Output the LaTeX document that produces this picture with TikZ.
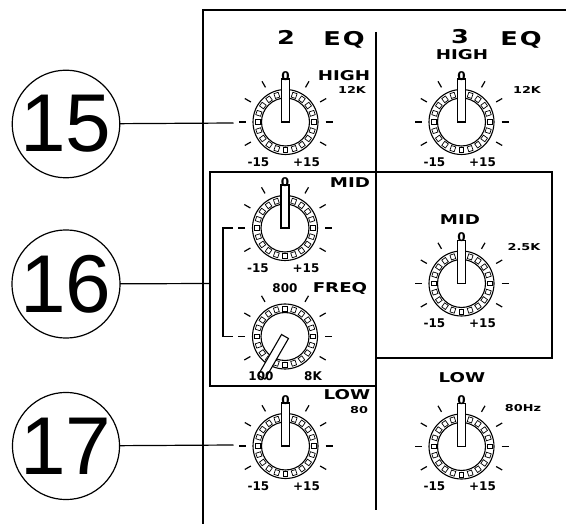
\documentclass[tikz,border=0pt]{standalone}
\usepackage{fontspec}
\usepackage{tikz,tkz-graph}
\setmainfont{Liberation Sans}
\newfontfamily\wideFont{DejaVu Sans}[FakeStretch=1.35]
\newfontfamily\numFont{DejaVu Sans}
\tikzstyle{knobLine}=[line width = 1.1pt]
\tikzstyle{knobTick}=[line width = 1.2pt]
\tikzstyle{knobNotch}=[shape = rectangle, draw, line width = 0.7pt, minimum width = 5pt, minimum height = 4.5pt, inner sep = 0pt]
\tikzstyle{knobPointer}=[draw, fill = white, line width = 1.1pt]
\newcommand{\Knob}[5]{%
\coordinate (#1) at (#2,#3);
\foreach \a in {-30,0,30,60,120,150,180,210}
  \draw[knobTick] (#1) ++(\a:40) -- ++(\a:7);
\draw[knobLine] (#1) circle (32.5);
\draw[knobLine] (#1) circle (24);
\foreach \b in {0,18,...,342}
  \path (#1) ++(\b:28) node[knobNotch, rotate = \b] {};
\begin{scope}[shift = {(#2,#3)}, rotate = #4-90]
\draw[knobPointer] (-4,0) rectangle (4,#5);
\end{scope}}

\begin{document}
\begin{tikzpicture}[x = 1pt, y = 1pt]
\tikzstyle{VertexStyle} = []
\tikzstyle{EdgeStyle} = [line width = 1.2pt]
\tikzstyle{callout}=[shape = circle, draw, line width = 1.2pt, minimum size = 103pt, inner sep = 0pt, font = \fontsize{82}{82}\selectfont]
\tikzstyle{frameLine}=[line width = 2pt]
\tikzstyle{knobNumber}=[inner sep = 0pt, font = \numFont\bfseries\fontsize{12}{12}\selectfont]
\tikzstyle{topLabel}=[knobNumber, yshift = 46pt]
\tikzstyle{minLabel}=[knobNumber, xshift = -27pt, yshift = -40pt]
\tikzstyle{maxLabel}=[knobNumber, xshift = 21pt, yshift = -40pt]
\tikzstyle{bandName}=[inner sep = 0pt, font = \wideFont\bfseries\fontsize{13.5}{13.5}\selectfont]
\tikzstyle{bandFreq}=[inner sep = 0pt, font = \wideFont\bfseries\fontsize{9.5}{9.5}\selectfont]
\tikzstyle{chanNum}=[inner sep = 0pt, font = \wideFont\bfseries\fontsize{19}{19}\selectfont]
\useasboundingbox (0,0) rectangle (566,-524);
\draw[frameLine] (566,-10) -- (203,-10) -- (203,-524);
\draw[line width = 1.5pt] (376,-32) -- (376,-510);
\draw[frameLine] (376,-358) -- (552,-358) -- (552,-172) -- (210,-172) -- (210,-386) -- (376,-386);
\Knob{k2high}{285.5}{-122}{90}{43}
\Knob{k2mid}{285}{-228}{90}{43}
\Knob{k2freq}{285}{-336.5}{240}{47}
\Knob{k2low}{285.5}{-446}{90}{43}
\Knob{k3high}{461.5}{-122}{90}{43}
\Knob{k3mid}{461.5}{-283.5}{90}{43}
\Knob{k3low}{461.5}{-446.5}{90}{43}
\node[topLabel] (k2highTop) at (k2high) {0};
\node[minLabel] (k2highMin) at (k2high) {-15};
\node[maxLabel] (k2highMax) at (k2high) {+15};
\node[topLabel] (k2midTop) at (k2mid) {0};
\node[minLabel] (k2midMin) at (k2mid) {-15};
\node[maxLabel] (k2midMax) at (k2mid) {+15};
\node[topLabel, yshift = 2pt] (k2freqTop) at (k2freq) {800};
\node[minLabel, xshift = 3pt] (k2freqMin) at (k2freq) {100};
\node[maxLabel, xshift = 7pt] (k2freqMax) at (k2freq) {8K};
\node[topLabel] (k2lowTop) at (k2low) {0};
\node[minLabel] (k2lowMin) at (k2low) {-15};
\node[maxLabel] (k2lowMax) at (k2low) {+15};
\node[topLabel] (k3highTop) at (k3high) {0};
\node[minLabel] (k3highMin) at (k3high) {-15};
\node[maxLabel] (k3highMax) at (k3high) {+15};
\node[topLabel] (k3midTop) at (k3mid) {0};
\node[minLabel] (k3midMin) at (k3mid) {-15};
\node[maxLabel] (k3midMax) at (k3mid) {+15};
\node[topLabel] (k3lowTop) at (k3low) {0};
\node[minLabel] (k3lowMin) at (k3low) {-15};
\node[maxLabel] (k3lowMax) at (k3low) {+15};
\node[chanNum] (ch2) at (286,-37) {2};
\node[chanNum] (eq2) at (344,-40) {E\kern2pt Q};
\node[chanNum] (ch3) at (460,-37) {3};
\node[chanNum] (eq3) at (521,-40) {E\kern2pt Q};
\node[bandName] (high2) at (344,-76) {HIGH};
\node[bandFreq] (high2f) at (352,-90) {12K};
\node[bandName] (mid2) at (350,-183) {MID};
\node[bandName] (freq2) at (340,-288) {FREQ};
\node[bandName] (low2) at (347,-395) {LOW};
\node[bandFreq] (low2f) at (359,-410) {80};
\node[bandName] (high3) at (462,-55) {HIGH};
\node[bandFreq] (high3f) at (527,-90) {12K};
\node[bandName] (mid3) at (460,-220) {MID};
\node[bandFreq] (mid3f) at (524,-247) {2.5K};
\node[bandName] (low3) at (462,-378) {LOW};
\node[bandFreq] (low3f) at (523,-408) {80Hz};
\draw[knobTick] ([xshift = -52pt]k2mid) -- ([xshift = -62pt]k2mid) |- ([xshift = -52pt]k2freq);
\Vertex[style = callout, x = 66, y = -124, L = {15}]{c15}
\Vertex[style = callout, x = 66, y = -284, L = {16}]{c16}
\Vertex[style = callout, x = 66, y = -446, L = {17}]{c17}
\coordinate (p15) at ([xshift = -52pt, yshift = -1pt]k2high);
\coordinate (p16) at (210,-283.5);
\coordinate (p17) at ([xshift = -52pt, yshift = 1pt]k2low);
\Edge(c15)(p15)
\Edge(c16)(p16)
\Edge(c17)(p17)
\end{tikzpicture}
\end{document}
